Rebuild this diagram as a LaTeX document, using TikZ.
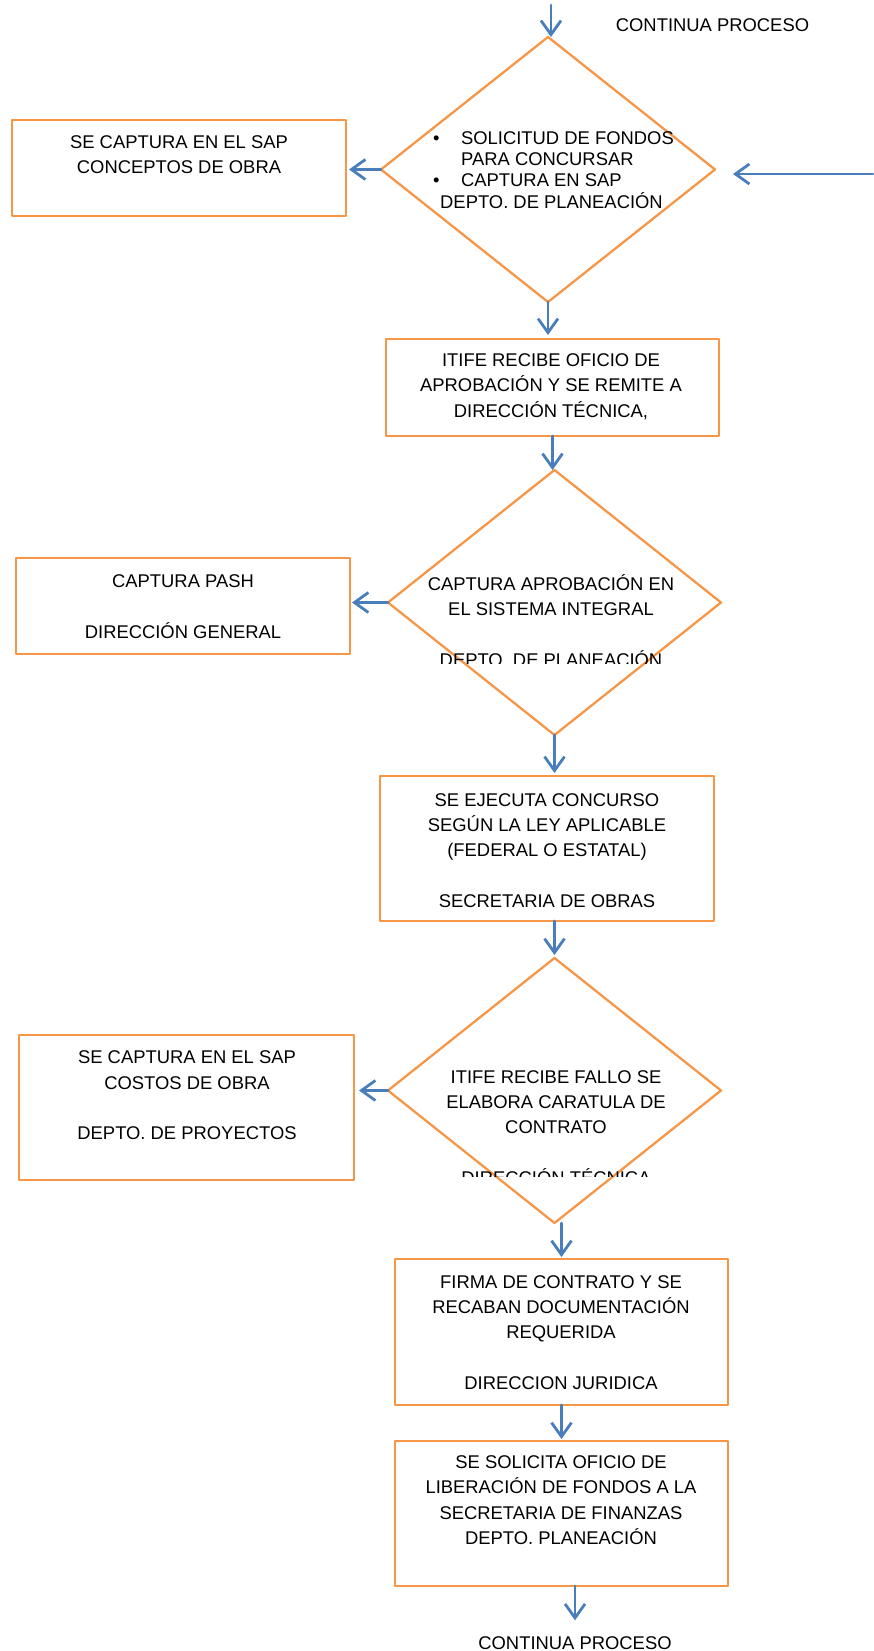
\documentclass[tikz,border=0pt]{standalone}
\usepackage{fontspec}
\setmainfont{Liberation Sans}
\usepackage{tikz}
\usetikzlibrary{arrows.meta}
\usetikzlibrary{shapes.geometric}
\definecolor{naranja}{RGB}{247,150,70}
\definecolor{azul}{RGB}{74,126,187}
\begin{document}
\begin{tikzpicture}[line cap=round,line join=round,>={Straight Barb[length=14pt,width=20pt]},x=1pt,y=-1pt,
caja/.style={draw=naranja,line width=2.6pt,minimum width=334pt,inner sep=0pt,outer sep=0pt},
rombo/.style={diamond,draw=naranja,line width=2.3pt,minimum width=334pt,minimum height=265pt,inner sep=0pt,outer sep=0pt},
texto/.style={align=center,inner sep=0pt,font=\fontsize{18.4}{25.3}\selectfont},
flecha/.style={->,draw=azul,line width=2.8pt}]
\useasboundingbox (0,0) rectangle (873,1651);
\node[rombo] (d1) at (548,169.5) {};
\node[caja,minimum height=96pt] (b1) at (179,168) {};
\node[caja,minimum height=97pt,minimum width=333pt] (b2) at (552.5,387.5) {};
\node[rombo,minimum width=333pt] (d2) at (554.5,602.5) {};
\node[caja,minimum height=96pt] (b3) at (183,606) {};
\node[caja,minimum height=145pt] (b4) at (547,848.5) {};
\node[rombo,minimum width=333pt] (d3) at (554.5,1090.5) {};
\node[caja,minimum height=145pt,minimum width=335pt] (b5) at (186.5,1107.5) {};
\node[caja,minimum height=146pt,minimum width=333pt] (b6) at (561.5,1332) {};
\node[caja,minimum height=145pt,minimum width=333pt] (b7) at (561.5,1513.5) {};
\node[texto] (proceso1) at (712.5,25) {CONTINUA PROCESO};
\node[texto] (proceso2) at (575,1643) {CONTINUA PROCESO};
\node[texto] (t1) at (179,154.5) {SE CAPTURA EN EL SAP\\CONCEPTOS DE OBRA};
\node[texto,align=left,anchor=north west,font=\fontsize{18.4}{21.4}\selectfont] (td1) at (433,131) {•\hspace{21.5pt}SOLICITUD DE FONDOS\\\hspace*{28pt}PARA CONCURSAR\\•\hspace{21.5pt}CAPTURA EN SAP\\\hspace*{7pt}DEPTO. DE PLANEACIÓN};
\node[texto] (t2) at (551,386.7) {ITIFE RECIBE OFICIO DE\\APROBACIÓN Y SE REMITE A\\DIRECCIÓN TÉCNICA,};
\node[texto] (t3) at (183,606.5) {CAPTURA PASH\\~\\DIRECCIÓN GENERAL};
\begin{scope}
\clip (380,560) rectangle (730,663);
\node[texto] (td2) at (551,620.5) {CAPTURA APROBACIÓN EN\\EL SISTEMA INTEGRAL\\~\\DEPTO. DE PLANEACIÓN};
\end{scope}
\node[texto] (t4) at (547,850.5) {SE EJECUTA CONCURSO\\SEGÚN LA LEY APLICABLE\\(FEDERAL O ESTATAL)\\~\\SECRETARIA DE OBRAS};
\begin{scope}
\clip (380,1040) rectangle (730,1176);
\node[texto] (td3) at (556,1127.6) {ITIFE RECIBE FALLO SE\\ELABORA CARATULA DE\\CONTRATO\\~\\DIRECCIÓN TÉCNICA};
\end{scope}
\node[texto] (t5) at (187,1095.5) {SE CAPTURA EN EL SAP\\COSTOS DE OBRA\\~\\DEPTO. DE PROYECTOS};
\node[texto] (t6) at (561,1332.5) {FIRMA DE CONTRATO Y SE\\RECABAN DOCUMENTACIÓN\\REQUERIDA\\~\\DIRECCION JURIDICA};
\node[texto] (t7) at (561,1500) {SE SOLICITA OFICIO DE\\LIBERACIÓN DE FONDOS A LA\\SECRETARIA DE FINANZAS\\DEPTO. PLANEACIÓN};
\coordinate (arriba) at (551,5);
\coordinate (entrada) at (873,174);
\draw[flecha] (arriba) -- (arriba |- d1.north);
\draw[flecha,shorten >=18pt] (entrada) -- (entrada -| d1.east);
\draw[flecha,shorten >=3pt] (d1.west) -- (d1.west -| b1.east);
\draw[flecha,shorten >=4pt] (d1.south) -- (d1.south |- b2.north);
\draw[flecha] (b2.south) -- (b2.south |- d2.north);
\draw[flecha,shorten >=2pt] (d2.west) -- (d2.west -| b3.east);
\draw[flecha,shorten >=3pt] (d2.south) -- (d2.south |- b4.north);
\draw[flecha,shorten >=3pt] (b4.south -| d3.north) -- (d3.north);
\draw[flecha,shorten >=5pt] (d3.west) -- (d3.west -| b5.east);
\draw[flecha,shorten >=2pt] (d3.south -| b6.north) -- (b6.north);
\draw[flecha,shorten >=2pt] (b6.south) -- (b7.north);
\draw[flecha,shorten >=16pt] (b7.south -| proceso2) -- (proceso2.north);
\end{tikzpicture}
\end{document}
